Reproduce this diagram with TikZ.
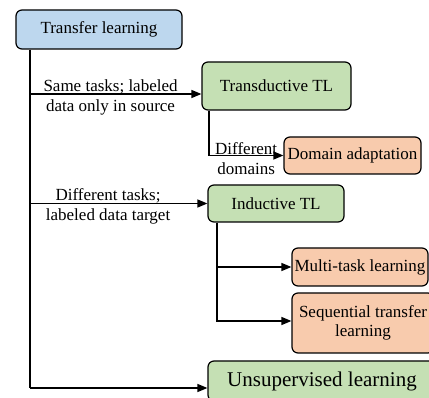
\documentclass[tikz,border=0pt]{standalone}
\usepackage{fontspec}
\setmainfont{Liberation Serif}
\usetikzlibrary{arrows.meta}

\definecolor{tlblue}{HTML}{BDD7EE}
\definecolor{tlgreen}{HTML}{C5E0B4}
\definecolor{tlorange}{HTML}{F8CBAD}

\begin{document}
\begin{tikzpicture}[
  x=1pt, y=-1pt,
  box/.style={draw, rounded corners=6pt, line width=1.2pt, align=center, inner sep=2pt,
    font=\rmfamily\fontsize{17}{19}\selectfont},
  lbl/.style={align=center, inner sep=0pt, font=\rmfamily\fontsize{17}{20}\selectfont},
  arrow/.style={-{Triangle[length=10pt, width=8pt]}, line width=1.4pt},
  line/.style={line width=1.4pt},
]
  \clip (0,0) rectangle (429,398);
  \node[box, fill=tlblue, minimum width=166pt, minimum height=39pt] (tl) at (99,29.5) {Transfer learning};
  \node[box, fill=tlgreen, minimum width=149pt, minimum height=48pt] (trans) at (276.5,86) {Transductive TL};
  \node[box, fill=tlorange, minimum width=137pt, minimum height=37pt] (dom) at (352.5,155.5) {Domain adaptation};
  \node[box, fill=tlgreen, minimum width=136pt, minimum height=37pt] (ind) at (276,203.5) {Inductive TL};
  \node[box, fill=tlorange, minimum width=136pt, minimum height=38pt] (multi) at (360,267) {Multi-task learning};
  \node[box, fill=tlorange, minimum width=142pt, minimum height=60pt] (seq) at (363,323) {Sequential transfer\\learning};
  \node[box, fill=tlgreen, minimum width=228pt, minimum height=40pt,
    font=\rmfamily\fontsize{21}{24}\selectfont] (unsup) at (322,381) {Unsupervised learning};

  \coordinate (trunk) at (30,0);
  \coordinate (indbr) at (217,0);
  \coordinate (transbr) at (209,0);

  % main trunk
  \draw[line] (trunk |- tl.south) -- (trunk |- unsup.west) -- ++(0,7);
  \draw[arrow] (trunk |- trans.west) ++(0,8) coordinate (j1) -- ([yshift=-8pt]trans.west)
    node[lbl, pos=0.47, yshift=-3pt] {Same tasks; labeled\\data only in source};
  \draw[arrow] (trunk |- ind.west) coordinate (j2) -- (ind.west)
    node[lbl, pos=0.44, yshift=-3pt] {Different tasks;\\labeled data target};
  \draw[arrow] (trunk |- unsup.west) ++(0,7) -- ([yshift=-7pt]unsup.west);

  % sub branches
  \draw[arrow] (transbr |- trans.south) |- (dom.west)
    node[lbl, pos=0.75, yshift=-3pt] {Different\\domains};
  \draw[arrow] (indbr |- ind.south) |- (multi.west);
  \draw[arrow] (indbr |- ind.south) |- ([yshift=2pt]seq.west);
\end{tikzpicture}
\end{document}
